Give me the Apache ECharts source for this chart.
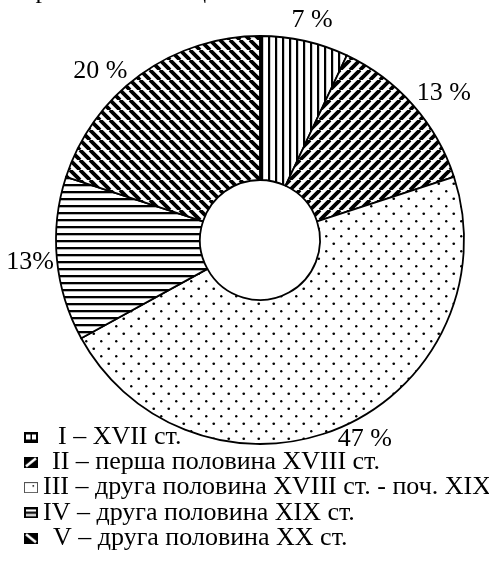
<!DOCTYPE html>
<html><head><meta charset="utf-8">
<script src="https://cdn.jsdelivr.net/npm/echarts@6/dist/echarts.min.js"></script>
<style>html,body{margin:0;padding:0;background:#fff;overflow:hidden}#c{width:489px;height:574px}</style>
</head><body><div id="c"></div>
<script>
// ---- data ----
const categories = [
  'I – XVII ст.',
  'II – перша половина XVIII ст.',
  'III – друга половина XVIII ст. - поч. XIX',
  'IV – друга половина XIX ст.',
  'V – друга половина XX ст.'
];
const values = [7, 13, 47, 13, 20];
const valueLabels = ['7 %', '13 %', '47 %', '13%', '20 %'];
const headerText = 'паркового мистецтва.';

// ---- layout / style (not data) ----
const FONT = "'Liberation Serif','Times New Roman',serif";
const CX = 260, CY = 240, R_IN = 60, R_OUT = 204, R_LABEL = 229;
const labelNudge = [[2, 4], [12, 5], [14, -11], [-2, 1], [-25, 16]];
const legendTextX = [58, 52, 43, 43, 53];
const legendRowY0 = 437, legendRowGap = 25.3;

function makeCanvas(w, h, draw) {
  const c = document.createElement('canvas');
  c.width = w; c.height = h;
  const ctx = c.getContext('2d');
  ctx.fillStyle = '#fff'; ctx.fillRect(0, 0, w, h);
  ctx.fillStyle = '#000'; ctx.strokeStyle = '#000';
  draw(ctx, w, h);
  return c;
}
const patterns = [
  makeCanvas(7, 7, (c) => { c.fillRect(2, 0, 2.2, 7); }),
  makeCanvas(10, 10, (c, w) => { c.lineWidth = 3.8; c.beginPath(); for (let k = -1; k <= 1; k++) { c.moveTo(k * w, w); c.lineTo(k * w + w, 0); } c.stroke(); }),
  makeCanvas(15, 15, (c) => { c.beginPath(); c.arc(3.75, 3.75, 1.35, 0, 7); c.fill(); c.beginPath(); c.arc(11.25, 11.25, 1.2, 0, 7); c.fill(); }),
  makeCanvas(7, 7, (c) => { c.fillRect(0, 2, 7, 2.3); }),
  makeCanvas(10, 10, (c, w) => { c.lineWidth = 3.8; c.beginPath(); for (let k = -1; k <= 1; k++) { c.moveTo(k * w, 0); c.lineTo(k * w + w, w); } c.stroke(); })
];
const icons = [
  makeCanvas(14, 11, (c) => { c.fillRect(0, 0, 14, 11); c.fillStyle = '#fff'; c.fillRect(2, 3, 4.5, 5); c.fillRect(8, 3, 4, 5); }),
  makeCanvas(14, 11, (c) => { c.fillRect(0, 0, 14, 11); c.strokeStyle = '#fff'; c.lineWidth = 2.6; c.beginPath(); c.moveTo(2, 9.5); c.lineTo(12, 1.5); c.stroke(); }),
  makeCanvas(14, 11, (c) => { c.strokeStyle = '#555'; c.lineWidth = 1; c.strokeRect(0.5, 0.5, 13, 10); c.fillStyle = '#222'; c.fillRect(8.5, 3, 1.6, 1.6); }),
  makeCanvas(14, 11, (c) => { c.fillRect(0, 0, 14, 11); c.fillStyle = '#fff'; c.fillRect(2, 2, 10, 2.2); c.fillRect(2, 6.5, 10, 2.2); }),
  makeCanvas(14, 11, (c) => { c.fillRect(0, 0, 14, 11); c.strokeStyle = '#fff'; c.lineWidth = 2.6; c.beginPath(); c.moveTo(2, 1.5); c.lineTo(12, 9.5); c.stroke(); })
];

const total = values.reduce((a, b) => a + b, 0);
const cum = []; values.reduce((s, v, i) => { cum[i] = s; return s + v; }, 0);

const graphics = [{
  type: 'text', left: 10, top: -22,
  style: { text: headerText, font: '26px ' + FONT, fill: '#000' }
}];
categories.forEach((name, i) => {
  const y = legendRowY0 + i * legendRowGap;
  graphics.push({ type: 'image', x: 24, y: y - 5.5, style: { image: icons[i], width: 14, height: 11 } });
  graphics.push({ type: 'text', x: legendTextX[i], y: y, style: { text: name, font: '26px ' + FONT, fill: '#000', textVerticalAlign: 'middle' } });
});

const chart = echarts.init(document.getElementById('c'), null, { renderer: 'canvas' });
chart.setOption({
  backgroundColor: '#fff',
  animation: false,
  graphic: graphics,
  series: [{
    type: 'pie',
    center: [CX, CY],
    radius: [R_IN, R_OUT],
    startAngle: 90,
    clockwise: true,
    avoidLabelOverlap: false,
    silent: true,
    data: categories.map((n, i) => ({
      name: n, value: values[i],
      itemStyle: { color: { image: patterns[i], repeat: 'repeat' }, borderColor: '#000', borderWidth: 1.8 }
    })),
    label: {
      show: true, position: 'outside',
      formatter: (p) => valueLabels[p.dataIndex],
      fontFamily: FONT, fontSize: 26, color: '#000'
    },
    labelLine: { show: false },
    labelLayout: (p) => {
      const i = p.dataIndex;
      const a = (cum[i] + values[i] / 2) / total * Math.PI * 2;
      return {
        x: CX + R_LABEL * Math.sin(a) + labelNudge[i][0],
        y: CY - R_LABEL * Math.cos(a) + labelNudge[i][1],
        align: 'center', verticalAlign: 'middle'
      };
    }
  }]
});
</script>
</body></html>
